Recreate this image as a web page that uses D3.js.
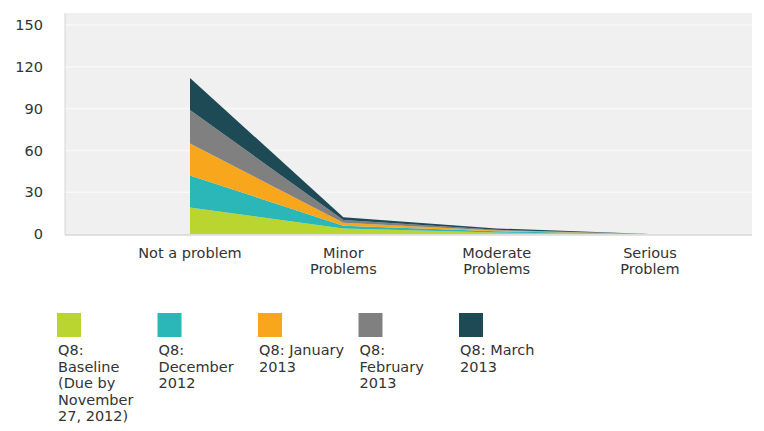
<!DOCTYPE html>
<html>
<head>
<meta charset="utf-8">
<script src="https://cdn.jsdelivr.net/npm/d3@7"></script>
<style>
  body { margin: 0; background: #fff; }
  text { font-family: "DejaVu Sans", sans-serif; fill: #333; }
</style>
</head>
<body>
<svg id="chart" width="764" height="431"></svg>
<script>
// categories along the x axis
const categories = ["Not a problem", "Minor Problems", "Moderate Problems", "Serious Problem"]
const seriesNames = ["Q8: Baseline (Due by November 27, 2012)", "Q8: December 2012", "Q8: January 2013", "Q8: February 2013", "Q8: March 2013"]
// values per series
const baseline = [19, 4, 1, 0]
const december = [23, 2, 1, 0]
const january = [23, 2, 0.5, 0]
const february = [24, 2, 0.5, 0]
const march = [23, 2, 1, 0]
const yTicks = [0, 30, 60, 90, 120, 150]

const colors = ["#bad52f", "#2bb6b8", "#f8a61c", "#808080", "#1e4a55"]

const svg = d3.select("#chart")
const plot = {left: 65, right: 752, top: 13, bottom: 235}
const fontSize = "14.5px"

const x = d3.scalePoint().domain(categories).range([190, 650])
const y = d3.scaleLinear().domain([0, 150]).range([234, 25])

// plot background
svg.append("rect")
  .attr("x", plot.left).attr("y", plot.top)
  .attr("width", plot.right - plot.left).attr("height", plot.bottom - plot.top)
  .attr("fill", "#f0f0f0")

// gridlines
svg.append("g").selectAll("line")
  .data(yTicks.slice(1))
  .enter().append("line")
    .attr("x1", plot.left).attr("x2", plot.right)
    .attr("y1", d => y(d)).attr("y2", d => y(d))
    .attr("stroke", "#f8f8f8").attr("stroke-width", 1.5)

// left border + bottom axis line
svg.append("line")
  .attr("x1", plot.left).attr("x2", plot.left)
  .attr("y1", plot.top).attr("y2", plot.bottom)
  .attr("stroke", "#d6d6d6")
svg.append("line")
  .attr("x1", plot.left).attr("x2", plot.right)
  .attr("y1", plot.bottom).attr("y2", plot.bottom)
  .attr("stroke", "#c8c8c8")

// stacked areas
const table = categories.map((c, i) => ({
  cat: c, s0: baseline[i], s1: december[i], s2: january[i], s3: february[i], s4: march[i]
}))
const stack = d3.stack().keys(["s0", "s1", "s2", "s3", "s4"])
const layers = stack(table)

const area = d3.area()
  .x(d => x(d.data.cat))
  .y0(d => y(d[0]))
  .y1(d => y(d[1]))

svg.append("g").selectAll("path")
  .data(layers)
  .enter().append("path")
    .attr("d", area)
    .attr("fill", (d, i) => colors[i])

// y axis labels
const yAxis = svg.append("g")
  .attr("transform", "translate(" + (plot.left - 10) + ",0)")
  .call(d3.axisLeft(y).tickValues(yTicks).tickSize(0).tickPadding(12))
yAxis.select(".domain").remove()
yAxis.selectAll("text").style("font-size", fontSize).attr("fill", "#333")

// x axis labels (wrapped)
const xWrap = {"Not a problem": ["Not a problem"], "Minor Problems": ["Minor", "Problems"],
  "Moderate Problems": ["Moderate", "Problems"], "Serious Problem": ["Serious", "Problem"]}
const xl = svg.append("g").selectAll("text")
  .data(categories)
  .enter().append("text")
    .attr("x", d => x(d))
    .attr("y", 258)
    .attr("text-anchor", "middle")
    .style("font-size", fontSize)
xl.each(function(d) {
  const t = d3.select(this)
  xWrap[d].forEach((line, k) => {
    t.append("tspan").attr("x", x(d)).attr("dy", k === 0 ? 0 : 15.5).text(line)
  })
})

// legend
const legendLines = [
  ["Q8:", "Baseline", "(Due by", "November", "27, 2012)"],
  ["Q8:", "December", "2012"],
  ["Q8: January", "2013"],
  ["Q8:", "February", "2013"],
  ["Q8: March", "2013"]
]
const legend = svg.append("g").selectAll("g")
  .data(seriesNames)
  .enter().append("g")
    .attr("transform", (d, i) => "translate(" + (57 + i * 100.5) + ",313)")
legend.append("rect")
  .attr("width", 24).attr("height", 24)
  .attr("fill", (d, i) => colors[i])
legend.append("text")
  .attr("x", 1).attr("y", 42)
  .style("font-size", fontSize)
  .each(function(d, i) {
    const t = d3.select(this)
    legendLines[i].forEach((line, k) => {
      t.append("tspan").attr("x", 1).attr("dy", k === 0 ? 0 : 16.5).text(line)
    })
  })
</script>
</body>
</html>
